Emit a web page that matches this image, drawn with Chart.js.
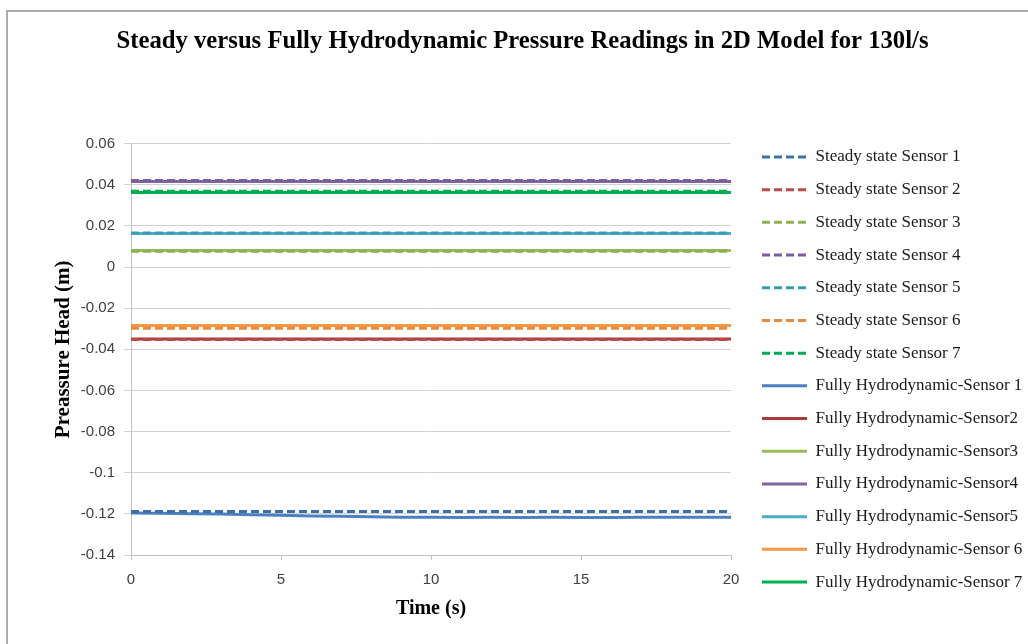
<!DOCTYPE html>
<html>
<head>
<meta charset="utf-8">
<title>Steady versus Fully Hydrodynamic Pressure Readings</title>
<script src="https://cdn.jsdelivr.net/npm/chart.js@4/dist/chart.umd.min.js"></script>
<style>
  html, body { margin: 0; padding: 0; background: #fff; }
  #wrap { position: relative; width: 1028px; height: 644px; overflow: hidden; }
  #frame { position: absolute; left: 6px; top: 10px; right: -10px; bottom: -10px;
           border: 2px solid #acacac; pointer-events: none; }
</style>
</head>
<body>
<div id="wrap">
  <canvas id="chart" width="1028" height="644"></canvas>
  <div id="frame"></div>
</div>
<script>
// --- data ---
const timeSeconds = [0, 1, 2, 3, 4, 5, 6, 7, 8, 9, 10, 11, 12, 13, 14, 15, 16, 17, 18, 19, 20];

const steadyNames = [
  "Steady state Sensor 1", "Steady state Sensor 2", "Steady state Sensor 3",
  "Steady state Sensor 4", "Steady state Sensor 5", "Steady state Sensor 6",
  "Steady state Sensor 7"
];
// steady state heads are constant over the whole run
const steadyHeads = [-0.1188, -0.0352, 0.0077, 0.0421, 0.0165, -0.0297, 0.0368];

const fullNames = [
  "Fully Hydrodynamic-Sensor 1", "Fully Hydrodynamic-Sensor2", "Fully Hydrodynamic-Sensor3",
  "Fully Hydrodynamic-Sensor4", "Fully Hydrodynamic-Sensor5", "Fully Hydrodynamic-Sensor 6",
  "Fully Hydrodynamic-Sensor 7"
];
const fullSensor1 = [-0.1196, -0.1197, -0.1199, -0.1201, -0.1204, -0.1207, -0.1210, -0.1212, -0.1214, -0.1216,
                     -0.1217, -0.1218, -0.1217, -0.1218, -0.1217, -0.1218, -0.1218, -0.1217, -0.1217, -0.1216, -0.1216];
const fullSensor2 = [-0.0350, -0.0350, -0.0350, -0.0350, -0.0350, -0.0350, -0.0350, -0.0350, -0.0350, -0.0350,
                     -0.0350, -0.0350, -0.0350, -0.0350, -0.0350, -0.0350, -0.0350, -0.0350, -0.0350, -0.0350, -0.0350];
const fullSensor3 = [0.0081, 0.0081, 0.0081, 0.0081, 0.0081, 0.0081, 0.0081, 0.0081, 0.0081, 0.0081,
                     0.0081, 0.0081, 0.0081, 0.0081, 0.0081, 0.0081, 0.0081, 0.0081, 0.0081, 0.0081, 0.0081];
const fullSensor4 = [0.0416, 0.0416, 0.0416, 0.0416, 0.0416, 0.0416, 0.0416, 0.0416, 0.0416, 0.0416,
                     0.0416, 0.0416, 0.0416, 0.0416, 0.0416, 0.0416, 0.0416, 0.0416, 0.0416, 0.0416, 0.0416];
const fullSensor5 = [0.0163, 0.0163, 0.0163, 0.0163, 0.0163, 0.0163, 0.0163, 0.0163, 0.0163, 0.0163,
                     0.0163, 0.0163, 0.0163, 0.0163, 0.0163, 0.0163, 0.0163, 0.0163, 0.0163, 0.0163, 0.0163];
const fullSensor6 = [-0.0284, -0.0284, -0.0284, -0.0284, -0.0284, -0.0284, -0.0284, -0.0284, -0.0284, -0.0284,
                     -0.0284, -0.0284, -0.0284, -0.0284, -0.0284, -0.0284, -0.0284, -0.0284, -0.0284, -0.0284, -0.0284];
const fullSensor7 = [0.0362, 0.0362, 0.0362, 0.0362, 0.0362, 0.0362, 0.0362, 0.0362, 0.0362, 0.0362,
                     0.0362, 0.0362, 0.0362, 0.0362, 0.0362, 0.0362, 0.0362, 0.0362, 0.0362, 0.0362, 0.0362];
const fullSeries = [fullSensor1, fullSensor2, fullSensor3, fullSensor4, fullSensor5, fullSensor6, fullSensor7];

const xTicks = [0, 5, 10, 15, 20];
const yTicks = [0.06, 0.04, 0.02, 0, -0.02, -0.04, -0.06, -0.08, -0.1, -0.12, -0.14];

// --- colours (office 2010 palette) ---
const steadyColors = ["#3e6ea8", "#b94a47", "#8fb050", "#7b5f9d", "#3a9bb3", "#e58b3e", "#00ad4e"];
const fullColors   = ["#4a80c2", "#a93c3a", "#9bbb59", "#8064a2", "#4bacc6", "#f79646", "#00b050"];

const datasets = [];
steadyNames.forEach((name, i) => {
  datasets.push({
    label: name,
    data: [
      { x: timeSeconds[0], y: steadyHeads[i] },
      { x: timeSeconds[timeSeconds.length - 1], y: steadyHeads[i] }
    ],
    borderColor: steadyColors[i],
    backgroundColor: steadyColors[i],
    borderWidth: 3,
    borderDash: [8, 4],
    pointRadius: 0,
    tension: 0,
  });
});
fullNames.forEach((name, i) => {
  datasets.push({
    label: name,
    data: timeSeconds.map((t, k) => ({ x: t, y: fullSeries[i][k] })),
    borderColor: fullColors[i],
    backgroundColor: fullColors[i],
    borderWidth: 3,
    pointRadius: 0,
    tension: 0,
  });
});

const serif = "'Liberation Serif', 'Times New Roman', serif";
const sans = "'Liberation Sans', Arial, sans-serif";

// nudge the legend column down so it starts level with the top of the plot
const legendShift = {
  id: "legendShift",
  afterLayout(chart) {
    chart.legend.top += 47.5;
    chart.legend.bottom += 47.5;
  },
};

new Chart(document.getElementById("chart").getContext("2d"), {
  type: "line",
  data: { datasets },
  plugins: [legendShift],
  options: {
    responsive: false,
    animation: false,
    events: [],
    layout: { padding: { left: 17, right: 0, top: 0, bottom: 0 } },
    plugins: {
      title: {
        display: true,
        text: "Steady versus Fully Hydrodynamic Pressure Readings in 2D Model for 130l/s",
        color: "#000",
        font: { family: serif, size: 24.7, weight: "bold" },
        padding: { top: 27, bottom: 87 },
      },
      legend: {
        position: "right",
        maxWidth: 281.7,
        labels: {
          color: "#1a1a1a",
          font: { family: serif, size: 17 },
          usePointStyle: true,
          pointStyle: "line",
          pointStyleWidth: 45,
          padding: 15.7,
          // keep each series' dash and width in the legend sample
          generateLabels: (chart) => {
            const items = Chart.defaults.plugins.legend.labels.generateLabels(chart);
            items.forEach((item) => {
              const ds = chart.data.datasets[item.datasetIndex];
              item.lineDash = ds.borderDash || [];
              item.lineWidth = ds.borderWidth;
              item.strokeStyle = ds.borderColor;
            });
            return items;
          },
        },
      },
      tooltip: { enabled: false },
    },
    scales: {
      x: {
        type: "linear",
        min: 0,
        max: 20,
        afterBuildTicks: (scale) => { scale.ticks = xTicks.map((v) => ({ value: v })); },
        afterFit: (scale) => { scale.height = 89; },
        ticks: { color: "#404040", font: { family: sans, size: 15 }, padding: 11, maxRotation: 0 },
        grid: { drawOnChartArea: false, drawTicks: true, tickLength: 5, color: "#bfbfbf" },
        border: { color: "#bfbfbf", width: 1 },
        title: {
          display: true,
          text: "Time (s)",
          color: "#000",
          font: { family: serif, size: 20, weight: "bold" },
          padding: { top: 0, bottom: 23 },
        },
      },
      y: {
        min: -0.14,
        max: 0.06,
        afterBuildTicks: (scale) => { scale.ticks = yTicks.map((v) => ({ value: v })); },
        afterFit: (scale) => { scale.width = 114; },
        ticks: {
          color: "#404040",
          font: { family: sans, size: 15 },
          padding: 9,
          callback: (v) => String(Number(v.toFixed(2))),
        },
        grid: { color: "#d2d2d2", tickLength: 7, lineWidth: 1 },
        border: { color: "#c4c4c4", width: 1 },
        title: {
          display: true,
          text: "Preassure Head (m)",
          color: "#000",
          font: { family: serif, size: 21, weight: "bold" },
          padding: { top: 34.4, bottom: 0 },
        },
      },
      // empty spacer between the plot and the legend
      gap: {
        position: "right",
        display: true,
        grid: { display: false },
        border: { display: false },
        ticks: { display: false },
        afterFit: (scale) => { scale.width = 15.3; },
      },
    },
  },
});
</script>
</body>
</html>
